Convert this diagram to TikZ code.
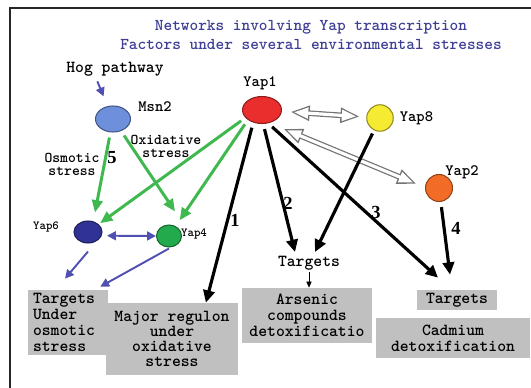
\documentclass[tikz,border=0pt]{standalone}
\usepackage{fontspec}
\setmainfont{Liberation Serif}
\usepackage{tikz}
\usetikzlibrary{arrows.meta, positioning, calc, shapes.geometric}
\definecolor{yaponecolor}{RGB}{234,46,46}
\definecolor{msncolor}{RGB}{110,144,220}
\definecolor{yapeightcolor}{RGB}{245,235,50}
\definecolor{yaptwocolor}{RGB}{242,108,40}
\definecolor{yapsixcolor}{RGB}{48,50,150}
\definecolor{yapfourcolor}{RGB}{34,170,76}
\definecolor{greenarrow}{RGB}{64,184,80}
\definecolor{bluearrow}{RGB}{80,80,176}
\definecolor{titlecolor}{RGB}{62,62,150}
\definecolor{boxgray}{RGB}{192,192,192}
\newcommand{\monofont}[2]{\ttfamily\bfseries\fontsize{#1}{#2}\selectfont}
\tikzset{
  factor/.style={ellipse, draw=#1!60!black, fill=#1, line width=0.6pt, inner sep=0pt},
  genelbl/.style={font=\monofont{9}{10}, inner sep=1pt},
  smallgene/.style={font=\monofont{7}{8}, inner sep=1pt},
  stresslbl/.style={font=\monofont{8.5}{7.6}, align=center, inner sep=1pt},
  steplbl/.style={font=\bfseries\fontsize{10.5}{11}\selectfont, inner sep=1pt},
  tbox/.style={fill=boxgray, font=\monofont{9.6}{9.2}, align=center, inner sep=0pt},
  titletext/.style={font=\monofont{9.4}{11.3}, text=titlecolor, align=center},
  greenarr/.style={-{Triangle[length=7pt,width=6pt]}, line width=1.7pt, draw=greenarrow},
  blackarr/.style={-{Triangle[length=7pt,width=6.5pt]}, line width=1.8pt, draw=black, shorten <=3pt},
  bluearr/.style={-{Triangle[length=5pt,width=5pt]}, line width=1.1pt, draw=bluearrow},
  bluedbl/.style={{Triangle[length=5pt,width=5pt]}-{Triangle[length=5pt,width=5pt]},
                  line width=1.1pt, draw=bluearrow},
  thinarr/.style={-{Triangle[length=3.5pt,width=3pt]}, line width=0.5pt},
  edgeline/.style={draw=black!85, line width=1.2pt},
  hollow/.style 2 args={draw=white, line width=1.8pt,
    shorten <=#1+2pt, shorten >=#2+2pt,
    {Triangle[length=8.2pt,width=6pt]}-{Triangle[length=8.2pt,width=6pt]},
    preaction={draw=black!55, line width=3.2pt, shorten <=#1, shorten >=#2,
      {Triangle[length=11pt,width=8pt]}-{Triangle[length=11pt,width=8pt]}}},
}

\begin{document}
\begin{tikzpicture}[x=0.02cm, y=-0.02cm]
  \useasboundingbox (0,0) rectangle (531,388);
  \draw[edgeline] (10,388) -- (10,8) -- (531,8);

  \node[titletext] (title) at (311,35)
    {Networks involving Yap transcription\\Factors under several environmental stresses};
  \node[genelbl, font=\monofont{9.6}{10}] (hog) at (115,69) {Hog pathway};

  % --- factors ---
  \node[factor=msncolor, minimum width=0.7cm, minimum height=0.52cm] (msn2) at (113,119) {};
  \node[genelbl] (msn2lbl) at (155,107) {Msn2};
  \node[factor=yaponecolor, minimum width=0.78cm, minimum height=0.54cm] (yap1) at (262,110) {};
  \node[genelbl] (yap1lbl) at (260,83) {Yap1};
  \node[factor=yapeightcolor, minimum size=0.53cm] (yap8) at (380,118) {};
  \node[genelbl, right=0.08cm of yap8] (yap8lbl) {Yap8};
  \node[factor=yaptwocolor, minimum size=0.54cm] (yap2) at (439,188) {};
  \node[genelbl] (yap2lbl) at (462,172) {Yap2};
  \node[factor=yapsixcolor, minimum width=0.56cm, minimum height=0.44cm] (yap6) at (88,232) {};
  \node[smallgene] (yap6lbl) at (46,227) {Yap6};
  \node[factor=yapfourcolor, minimum width=0.5cm, minimum height=0.44cm] (yap4) at (169,236) {};
  \node[smallgene] (yap4lbl) at (194,234) {Yap4};

  % --- targets ---
  \node[tbox, minimum width=1.6cm, minimum height=1.3cm, text width=1.4cm, align=left]
    (osmbox) at (68,322.5) {Targets\\Under\\osmotic\\stress};
  \node[tbox, minimum width=2.64cm, minimum height=1.44cm, font=\monofont{9.6}{8.4}]
    (oxbox) at (172,339) {Major regulon\\under\\oxidative\\stress};
  \node[tbox, minimum width=2.6cm, minimum height=1.1cm]
    (arsbox) at (307,315.5) {Arsenic\\compounds\\detoxificatio};
  \node[tbox, minimum width=1.6cm, minimum height=0.4cm] (tgtbox) at (457,300) {Targets};
  \node[tbox, minimum width=3.08cm, minimum height=0.8cm]
    (cdbox) at (453,338) {Cadmium\\detoxification};
  \node[genelbl, font=\monofont{9.6}{10}] (tgtars) at (309,263) {Targets};

  % --- labels ---
  \node[stresslbl] (osmlbl) at (72,164.5) {Osmotic\\stress};
  \node[stresslbl] (oxlbl) at (166,146.5) {Oxidative\\stress};
  \node[steplbl] (n5) at (112,158) {5};
  \node[steplbl] (n1) at (235,220) {1};
  \node[steplbl] (n2) at (288,203) {2};
  \node[steplbl] (n3) at (376,212) {3};
  \node[steplbl] (n4) at (456,228) {4};

  % --- interactions ---
  \draw[hollow={4.8pt}{3.7pt}] (yap1) -- (yap8);
  \draw[hollow={8.6pt}{5.2pt}] (yap1.-60) -- (yap2.178);

  \draw[bluearr, shorten <=2pt, shorten >=6pt] ([xshift=-0.38cm]hog.south) -- (msn2);
  \draw[greenarr, shorten <=3pt] (msn2) -- ($(yap6.north)+(7,-8)$);
  \draw[greenarr, shorten <=3pt] (msn2) -- ($(yap4.north)+(6,-13)$);
  \draw[greenarr, shorten <=3pt, shorten >=1pt] (yap1.205) -- (yap6);
  \draw[greenarr, shorten <=3pt, shorten >=4pt] (yap1.215) -- (yap4);

  \draw[bluedbl, shorten <=3pt] (yap6.-15) -- (yap4.west);
  \draw[bluearr] ([yshift=-0.16cm]yap6.south) -- ($(osmbox.north)+(-3,-11)$);
  \draw[bluearr] ([yshift=-0.02cm]yap4.south) -- ($(osmbox.north east)+(-8,-3)$);

  % --- pathways 1-4 ---
  \draw[blackarr] (yap1.235) -- (oxbox.47.5);
  \draw[blackarr] (yap1.-85) -- ($(tgtars)+(-14,-11)$);
  \draw[blackarr] (yap1.-65) -- ($(tgtbox.north)+(-19,-12)$);
  \draw[blackarr, shorten <=2pt] (yap8) -- ($(tgtars)+(6,-11)$);
  \draw[blackarr] (yap2) -- ($(tgtbox.north)+(-7,-15)$);
  \draw[thinarr] (tgtars.south) -- (tgtars.south |- arsbox.north);

\end{tikzpicture}
\end{document}
